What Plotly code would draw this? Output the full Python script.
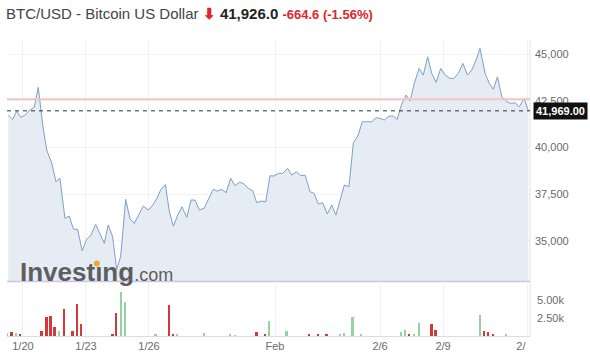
import pandas as pd
import plotly.graph_objects as go

# ---------------- data ----------------
base_date = "2022-01-20"
price_days = [-0.70, -0.49, -0.30, -0.10, 0.10, 0.33, 0.54, 0.73, 0.94, 1.13,
              1.37, 1.57, 1.76, 2.00, 2.20, 2.40, 2.60, 2.82, 3.03, 3.22,
              3.46, 3.67, 3.87, 4.06, 4.27, 4.46, 4.65, 4.89, 5.10, 5.30,
              5.54, 5.73, 5.97, 6.18, 6.37, 6.57, 6.78, 6.97, 7.16, 7.37,
              7.57, 7.80, 8.00, 8.19, 8.40, 8.62, 9.06, 9.25, 9.46, 9.67,
              9.89, 10.10, 10.30, 10.49, 10.73, 10.94, 11.13, 11.33, 11.56, 11.76,
              11.95, 12.16, 12.37, 12.60, 12.80, 13.03, 13.22, 13.43, 13.67, 13.86,
              14.06, 14.27, 14.49, 14.70, 14.90, 15.30, 15.52, 15.73, 15.94, 16.16,
              16.37, 16.60, 16.81, 17.00, 17.20, 17.43, 17.63, 17.82, 18.03, 18.24,
              18.43, 18.63, 18.86, 19.06, 19.27, 19.46, 19.67, 19.89, 20.10, 20.33,
              20.52, 20.73, 20.94, 21.16, 21.37, 21.57, 21.76, 22.00, 22.20, 22.40,
              22.59, 22.80, 23.03, 23.24, 23.43, 23.63, 23.86, 24.06]
prices = [41743, 41513, 41958, 41620, 41743, 42012, 42157, 43230, 41207, 39866,
          39168, 38165, 38347, 36201, 36325, 35627, 35611, 34463, 35075, 35268,
          35879, 35359, 34860, 35842, 35214, 33455, 34141, 37221, 36164, 35933,
          36470, 36861, 36647, 36915, 37274, 37757, 38015, 36555, 35788, 36378,
          36824, 36255, 37183, 37183, 36647, 36738, 37757, 37666, 37757, 37575,
          38347, 37950, 38133, 38079, 37811, 37682, 37038, 37130, 37092, 38487,
          38471, 38616, 38616, 38884, 38524, 38701, 38487, 38524, 37628, 37543,
          36969, 37038, 36432, 36915, 36378, 37988, 37897, 40257, 40617, 41384,
          41384, 41384, 41599, 41566, 41475, 41690, 41690, 41513, 42334, 42816,
          42495, 43444, 44249, 43889, 44871, 43981, 43498, 44249, 43889, 43712,
          43712, 43981, 44517, 43889, 44158, 44694, 45322, 43981, 43444, 43122,
          43798, 42725, 42457, 42371, 42403, 42189, 42639, 41969]

vol_days = [-0.78, -0.54, -0.33, -0.14, 0.89, 1.13, 1.33, 1.52, 1.73, 1.97,
            2.37, 2.59, 2.78, 4.27, 4.44, 4.67, 4.87, 6.33, 6.95, 7.16,
            7.35, 8.62, 9.86, 10.10, 11.13, 11.54, 11.73, 12.56, 13.63, 14.06,
            14.46, 15.10, 15.30, 15.70, 16.10, 18.00, 18.19, 18.40, 18.62, 18.86,
            19.46, 19.65, 21.76, 21.95, 22.16, 22.40, 23.00]
volumes = [370, 510, 370, 280, 700, 2590, 2780, 1200, 650, 3700,
           700, 4490, 1620, 280, 3150, 6160, 4720, 280, 4260, 140,
           140, 420, 140, 110, 560, 330, 2040, 700, 280, 280,
           280, 140, 460, 2590, 280, 600, 790, 230, 280, 1760,
           1620, 790, 2920, 700, 560, 190, 140]
vol_dir = ["g", "r", "g", "r", "r", "r", "r", "r", "g", "r",
           "r", "r", "r", "r", "r", "g", "g", "g", "r", "r",
           "g", "g", "g", "g", "r", "r", "g", "g", "r", "r",
           "r", "g", "g", "g", "g", "g", "g", "r", "g", "g",
           "r", "r", "g", "r", "r", "r", "g"]

tick_days = [0, 3, 6, 12, 17, 20, 24]
tick_labels = ["1/20", "1/23", "1/26", "Feb", "2/6", "2/9",
               "2/<span style='color:rgba(0,0,0,0)'>13</span>"]
price_ticks = [35000, 37500, 40000, 42500, 45000]
vol_ticks = [2500, 5000]
vol_tick_labels = ["2.50k", "5.00k"]

prev_close = 42590.6
last_price = 41969.0
title_name = "BTC/USD - Bitcoin US Dollar"
quote = "41,926.0"
change = "-664.6"
change_pct = "(-1.56%)"

# ---------------- build ----------------
t0 = pd.Timestamp(base_date)
def to_dt(d):
    return [t0 + pd.Timedelta(days=v) for v in d]

px_t = to_dt(price_days)
vol_t = to_dt(vol_days)
tick_t = to_dt(tick_days)
x_range = to_dt([-0.76, 24.14])

RED = "#d2393b"
GREEN = "#93d3a2"
vol_colors = [GREEN if d == "g" else RED for d in vol_dir]

fig = go.Figure()
fig.add_trace(go.Scatter(
    x=px_t, y=prices, mode="lines", fill="tozeroy",
    line=dict(color="#7f9fc6", width=1), fillcolor="#e5ecf4",
    xaxis="x2", yaxis="y", hoverinfo="skip", showlegend=False))
fig.add_trace(go.Bar(
    x=vol_t, y=volumes, marker=dict(color=vol_colors, line=dict(width=0)),
    width=0.09 * 86400000, xaxis="x", yaxis="y2", showlegend=False))

font_family = "Liberation Sans, Arial, sans-serif"
tick_font = dict(family=font_family, size=11, color="#6b6b6b")

W, H = 590, 359
ML, MR, MT, MB = 7, 60, 40, 23
PW, PH = W - ML - MR, H - MT - MB
def pxx(p):
    return (p - ML) / PW
def pxy(p):
    return (H - MB - p) / PH

fig.update_layout(
    width=W, height=H,
    margin=dict(l=ML, r=MR, t=MT, b=MB, pad=0),
    paper_bgcolor="white", plot_bgcolor="white",
    font=dict(family=font_family),
    bargap=0,
    xaxis=dict(domain=[0, 1], anchor="y2", range=x_range, type="date",
               tickvals=tick_t, ticktext=tick_labels, tickfont=tick_font,
               showgrid=True, gridcolor="#f1f1f1", gridwidth=1,
               showline=True, linecolor="#dcdcdc", linewidth=1,
               ticks="", zeroline=False),
    xaxis2=dict(domain=[0, 1], anchor="y", matches="x", type="date",
                tickvals=tick_t, showticklabels=False,
                showgrid=True, gridcolor="#f1f1f1", gridwidth=1,
                showline=False, zeroline=False),
    yaxis=dict(domain=[pxy(281), 1], range=[32840, 45770], side="right",
               tickvals=price_ticks, tickformat=",", tickfont=tick_font,
               showgrid=True, gridcolor="#f3f3f3", zeroline=False,
               ticks="", ticklabelstandoff=4),
    yaxis2=dict(domain=[0, pxy(283)], range=[0, 7360], side="right",
                tickvals=vol_ticks, ticktext=vol_tick_labels, tickfont=tick_font,
                showgrid=False, zeroline=False, ticks="", ticklabelstandoff=6),
)

shapes = [
    dict(type="line", xref="paper", yref="paper", x0=1, x1=1, y0=0, y1=1,
         line=dict(color="#e3e3e3", width=1)),
    dict(type="line", xref="paper", yref="paper", x0=0, x1=1,
         y0=pxy(281.5), y1=pxy(281.5), line=dict(color="#cdc4e2", width=1.5)),
    dict(type="line", xref="paper", yref="y", x0=0, x1=1,
         y0=prev_close, y1=prev_close, line=dict(color="#f3c6c6", width=2)),
    dict(type="line", xref="paper", yref="y", x0=0, x1=1,
         y0=last_price, y1=last_price, line=dict(color="#333333", width=1, dash="4px,4px")),
    # orange dot of the watermark's "i"
    dict(type="circle", xref="paper", yref="paper", layer="above",
         x0=pxx(93.8), x1=pxx(99.8), y0=pxy(266.5), y1=pxy(260.5),
         fillcolor="#f0a92a", line=dict(width=0)),
]
fig.update_layout(shapes=shapes)

annotations = [
    dict(xref="paper", yref="paper", x=pxx(4), y=pxy(14), xanchor="left", yanchor="middle",
         showarrow=False, align="left",
         text=(f"<span style='color:#444'>{title_name}</span> "
               f"<span style='color:#e0262b;font-size:15px'><b>\u2b07</b></span> "
               f"<b>{quote}</b> "
               f"<span style='color:#e0262b;font-size:13px'><b>{change} {change_pct}</b></span>"),
         font=dict(family=font_family, size=15, color="#222")),
    dict(xref="paper", yref="y", x=1, y=last_price, xanchor="left", yanchor="middle",
         xshift=3, showarrow=False, text=f"<b>{last_price:,.2f}</b>",
         bgcolor="#111111", borderpad=2,
         font=dict(family=font_family, size=11, color="white")),
    dict(xref="paper", yref="paper", x=pxx(18), y=pxy(272), xanchor="left", yanchor="middle",
         showarrow=False,
         text="<b>Invest\u0131ng</b><span style='font-size:18px'>.com</span>",
         font=dict(family=font_family, size=26, color="#5e5e5e")),
]
fig.update_layout(annotations=annotations)

fig.write_html("out.html")
